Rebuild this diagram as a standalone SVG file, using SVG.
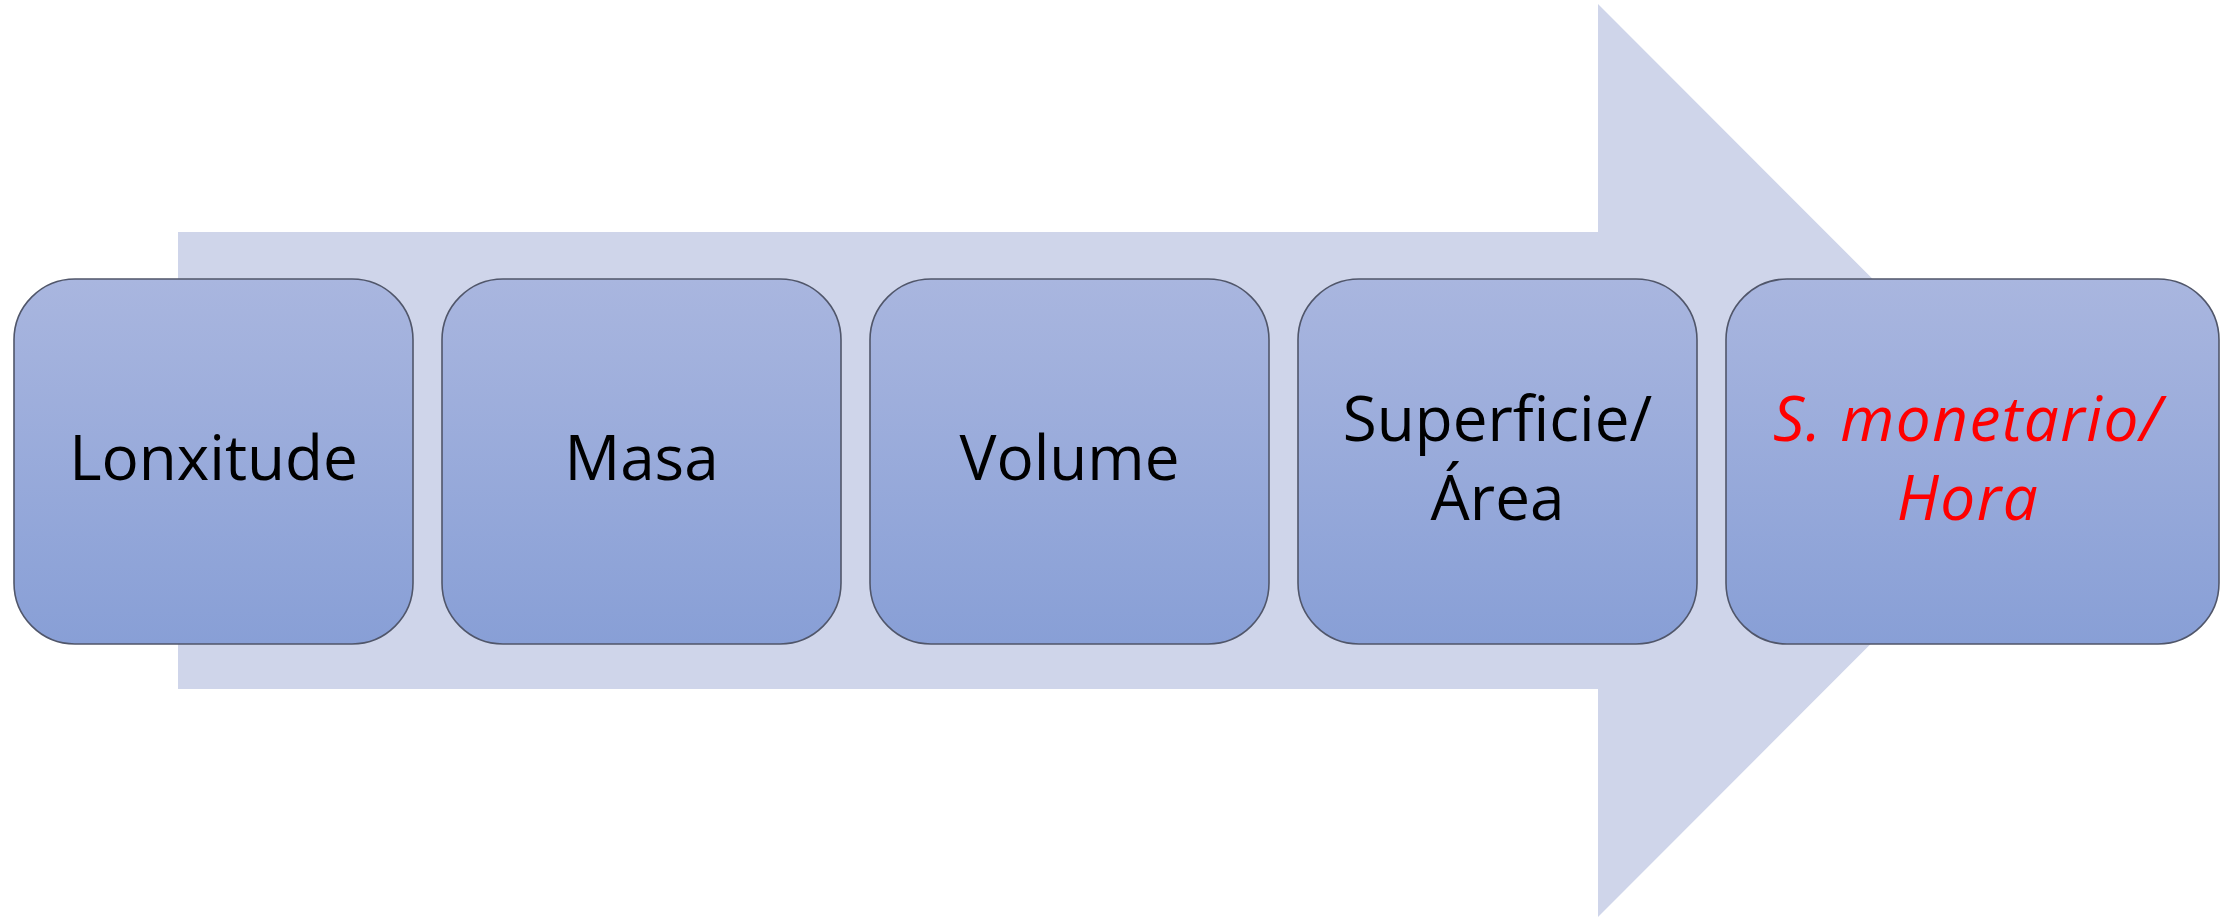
<svg xmlns="http://www.w3.org/2000/svg" width="2236" height="917" viewBox="0 0 2236 917">
<style>
.box{fill:url(#g);stroke:#50566a;stroke-width:1.6}
.t{font-family:"Open Sans","Liberation Sans",sans-serif;font-size:62px;fill:#000;text-anchor:middle}
.r{fill:#ff0000;font-style:italic;letter-spacing:1.5px}
</style>
<defs>
<linearGradient id="g" x1="0" y1="0" x2="0" y2="1">
<stop offset="0" stop-color="#a9b6df"/>
<stop offset="1" stop-color="#889fd6"/>
</linearGradient>
</defs>
<g id="arrow">
<polygon points="178,232 1598,232 1598,4 2054,460.5 1598,917 1598,689 178,689" fill="#cfd5ea"/>
</g>
<g id="connectors"></g>
<g id="n1"><rect class="box" x="14" y="279" width="399" height="365" rx="61"/><text class="t" x="213.5" y="480">Lonxitude</text></g>
<g id="n2"><rect class="box" x="442" y="279" width="399" height="365" rx="61"/><text class="t" x="641.5" y="480">Masa</text></g>
<g id="n3"><rect class="box" x="870" y="279" width="399" height="365" rx="61"/><text class="t" x="1069.5" y="480">Volume</text></g>
<g id="n4"><rect class="box" x="1298" y="279" width="399" height="365" rx="61"/><text class="t" x="1497.5" y="441">Superficie/</text><text class="t" x="1497.5" y="520">Área</text></g>
<g id="n5"><rect class="box" x="1726" y="279" width="493" height="365" rx="61"/><text class="t r" x="1968" y="441">S. monetario/</text><text class="t r" x="1968" y="520">Hora</text></g>
</svg>
